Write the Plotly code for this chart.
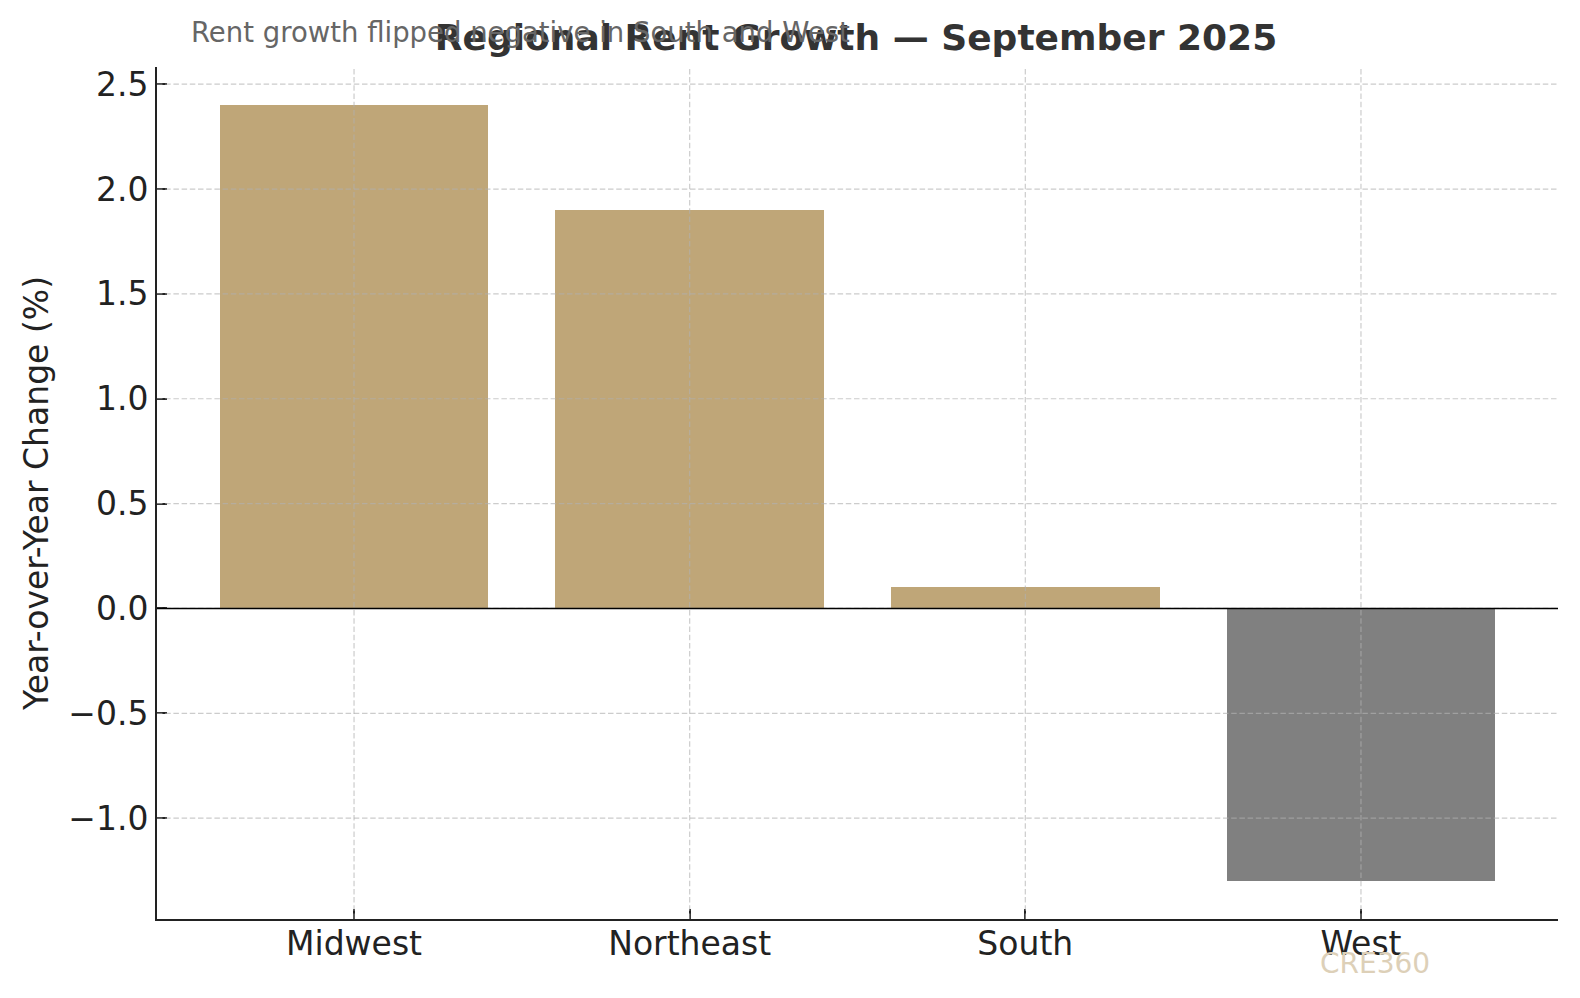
import plotly.graph_objects as go

# data
regions = ["Midwest", "Northeast", "South", "West"]
yoy_change = [2.4, 1.9, 0.1, -1.3]
y_ticks = [-1.0, -0.5, 0.0, 0.5, 1.0, 1.5, 2.0, 2.5]

gold = "#BFA678"
grey = "#808080"
bar_colors = [gold if v > 0 else grey for v in yoy_change]
x_pos = list(range(len(regions)))

font = "DejaVu Sans"
grid_col = "rgba(176,176,176,0.65)"

# the photo comes out ~0.8% smaller than the page, so lay out on a slightly bigger canvas
W, H = 1591, 1006

fig = go.Figure()

fig.add_trace(go.Bar(
    x=x_pos,
    y=yoy_change,
    width=0.8,
    marker=dict(color=bar_colors, line=dict(width=0)),
    showlegend=False,
))

# grid drawn on top of the bars, like the reference
for yv in y_ticks:
    fig.add_shape(type="line", xref="paper", yref="y", x0=0, x1=1, y0=yv, y1=yv,
                  line=dict(color=grid_col, width=1.2, dash="5.5px,2.7px"), layer="above")
for xv in x_pos:
    fig.add_shape(type="line", xref="x", yref="paper", x0=xv, x1=xv, y0=0, y1=1,
                  line=dict(color=grid_col, width=1.2, dash="5.5px,2.7px"), layer="above")

# zero line
fig.add_hline(y=0, line_width=1.5, line_color="black", layer="above")

fig.update_layout(
    width=W, height=H,
    margin=dict(l=157, r=33, t=67, b=87),
    paper_bgcolor="white", plot_bgcolor="white",
    font=dict(family=font, size=33, color="#222"),
    title=dict(
        text="<b>Regional Rent Growth — September 2025</b>",
        x=856 / W, xanchor="center", y=1 - 37 / H, yanchor="middle",
        font=dict(family=font, size=36, color="#333"),
    ),
    bargap=0,
)

fig.update_xaxes(
    range=[-0.587, 3.587],
    tickmode="array", tickvals=x_pos, ticktext=regions,
    showline=True, linecolor="#222", linewidth=2,
    ticks="inside", ticklen=10, tickwidth=1.5, tickcolor="#222",
    showgrid=False, zeroline=False,
    ticklabelstandoff=-6,
    tickfont=dict(size=33, color="#222"),
)

fig.update_yaxes(
    range=[-1.481, 2.582],
    tickmode="array", tickvals=y_ticks, tickformat=".1f",
    showline=True, linecolor="#222", linewidth=2,
    ticks="inside", ticklen=10, tickwidth=1.5, tickcolor="#222",
    showgrid=False, zeroline=False,
    title=dict(text="Year-over-Year Change (%)", font=dict(size=33, color="#222"), standoff=10),
    tickfont=dict(size=33, color="#222"),
)

# subtitle
fig.add_annotation(
    text="Rent growth flipped negative in South and West",
    xref="paper", yref="paper", x=(186 - 154) / 1393, y=1 + (66 - 31) / 845,
    xanchor="left", yanchor="middle", showarrow=False,
    font=dict(family=font, size=27.5, color="#666"),
)

# watermark
fig.add_annotation(
    text="CRE360",
    xref="paper", yref="paper", x=(1365 - 154) / 1393, y=-(955 - 911) / 845,
    xanchor="center", yanchor="middle", showarrow=False,
    font=dict(family=font, size=28, color="#DDD0B8"),
)

# no page margin / scrollbars so the figure sits at the top-left corner
page_css = ("document.body.style.margin='0';"
            "document.body.style.overflow='hidden';"
            "document.documentElement.style.overflow='hidden';")

fig.write_html("out.html", post_script=page_css, config={"displayModeBar": False})
